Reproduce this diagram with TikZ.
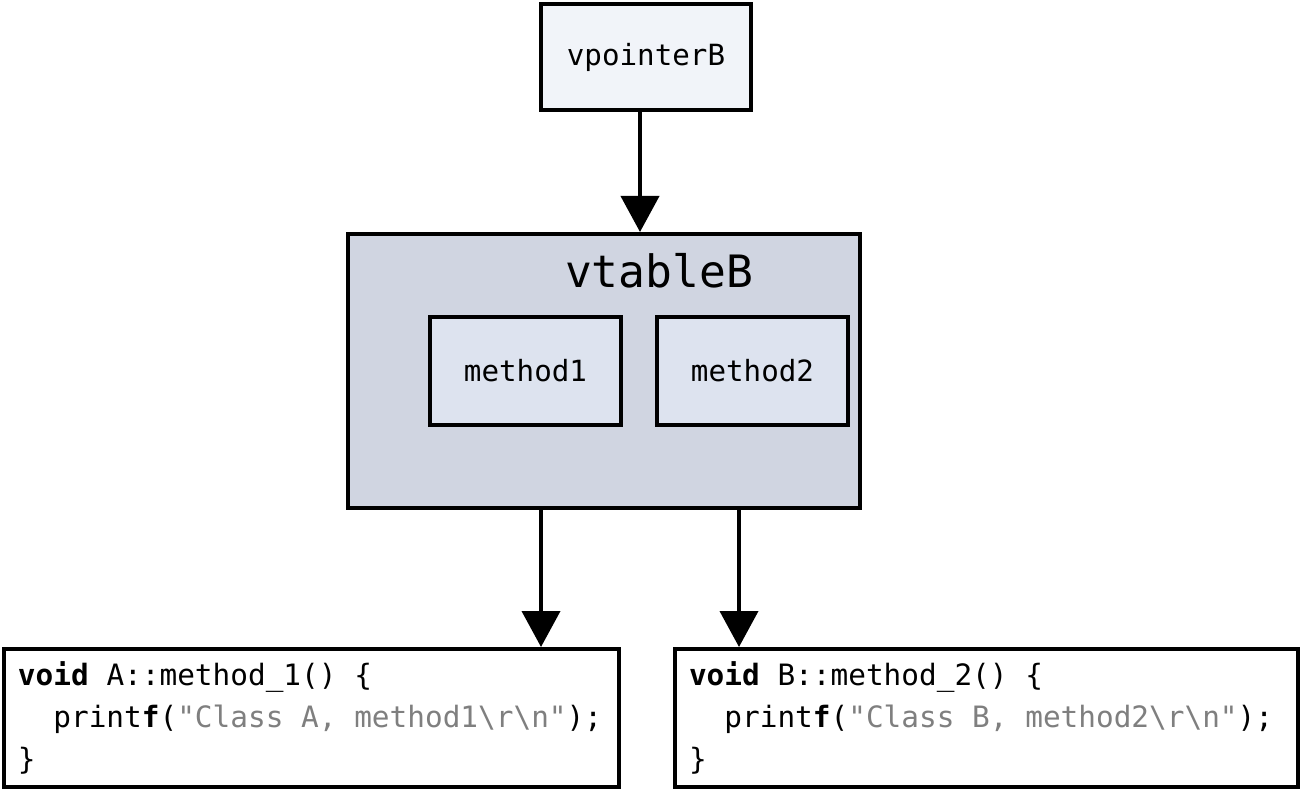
\documentclass[tikz,border=0pt]{standalone}
\usepackage{fontspec}
\setmonofont{DejaVu Sans Mono}
\usetikzlibrary{arrows.meta, positioning}
\definecolor{ptrfill}{HTML}{F1F4F9}
\definecolor{tblfill}{HTML}{D0D5E1}
\definecolor{methfill}{HTML}{DDE3EF}
\definecolor{strgray}{HTML}{7F7F7F}
\newcommand{\kw}[1]{\textbf{#1}}
\newcommand{\str}[1]{\textcolor{strgray}{#1}}

\begin{document}
\begin{tikzpicture}[
    x=0.5pt, y=-0.5pt,
    punkt/.style = {rectangle, draw, line width=2pt, inner sep=0pt,
                    font=\ttfamily\fontsize{14.6}{17}\selectfont},
    kode/.style = {punkt, fill=white, align=left, inner xsep=7pt,
                   font=\ttfamily\fontsize{14.7}{21}\selectfont,
                   execute at begin node={\spaceskip=0.602em\relax}},
    pil/.style = {black, line width=2pt, -{Triangle[width=19pt,length=18pt]}}
    ]
  \useasboundingbox (0,0) rectangle (1304,791);

  \node[punkt, fill=ptrfill, minimum width=105pt, minimum height=53pt] (ptr) at (646,57) {vpointerB} ;

  \node[punkt, fill=tblfill, minimum width=256pt, minimum height=137pt] (vtbl) at (604,371) {} ;
  \node[font=\ttfamily\fontsize{22.3}{26}\selectfont, anchor=base] (vtbllabel) at (659,287) {vtableB} ;
  \node[punkt, fill=methfill, minimum width=95.5pt, minimum height=54pt] (m1) at (525.5,371) {method1} ;
  \node[punkt, fill=methfill, minimum width=95.5pt, minimum height=54pt] (m2) [right=16pt of m1] {method2} ;

  \node[kode, text width=293.5pt, minimum height=69pt] (codeA) at (311.5,718)
    {\kw{void}~A::method\_1()~\{\\
     \hspace*{1.204em}print\kw{f}(\str{"Class~A,~method1\textbackslash r\textbackslash n"});\\
     \}} ;
  \node[kode, text width=297.5pt, minimum height=69pt] (codeB) at (986.5,718)
    {\kw{void}~B::method\_2()~\{\\
     \hspace*{1.204em}print\kw{f}(\str{"Class~B,~method2\textbackslash r\textbackslash n"});\\
     \}} ;

  \coordinate (inTbl) at ([xshift=-3pt]ptr.south) ;
  \coordinate (outA) at ([xshift=-31.5pt]vtbl.south) ;
  \coordinate (outB) at ([xshift=67.5pt]vtbl.south) ;

  \draw[pil] (inTbl) -- (inTbl |- vtbl.north) ;
  \draw[pil] (outA) -- (outA |- codeA.north) ;
  \draw[pil] (outB) -- (outB |- codeB.north) ;
\end{tikzpicture}
\end{document}
